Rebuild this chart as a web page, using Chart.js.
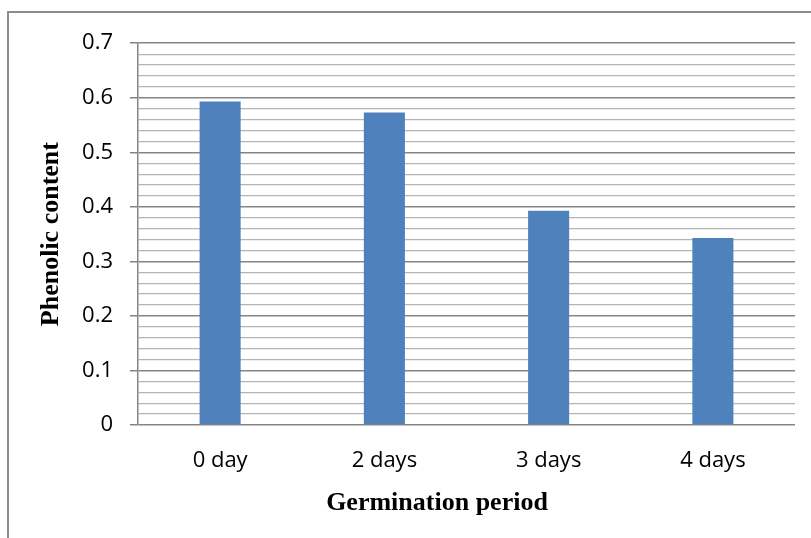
<!DOCTYPE html>
<html lang="en">
<head>
<meta charset="utf-8">
<title>Phenolic content</title>
<script src="https://cdn.jsdelivr.net/npm/chart.js@4.4.1/dist/chart.umd.min.js"></script>
<style>
    html, body { margin: 0; padding: 0; background: #fff; overflow: hidden; }
    /* marco exterior del gráfico (se sale por la derecha y por abajo) */
    #marco { position: absolute; left: 7px; top: 11px; width: 856px; height: 560px; border: 2px solid #8c8c8c; }
    #grafico { display: block; }
</style>
</head>
<body>
<div id="marco"><canvas id="grafico" width="856" height="525"></canvas></div>
<script>
// Datos
const categorias = ['0 day', '2 days', '3 days', '4 days'];
const valores = [0.593, 0.573, 0.393, 0.343];
const marcasMayores = [0, 0.1, 0.2, 0.3, 0.4, 0.5, 0.6, 0.7];
const pasoMenor = 0.02;

const COLORES = {
    BARRA: '#4f81bd',
    MAYOR: '#858585',
    MENOR: '#b4b4b4',
    TEXTO: '#000000'
};

const esMayor = v => marcasMayores.some(m => Math.abs(m - v) < 1e-6);

// Título del eje X centrado bajo todo el marco (como en Excel)
const tituloEjeX = {
    id: 'tituloEjeX',
    afterDraw(chart) {
        const { ctx, chartArea } = chart;
        ctx.save();
        ctx.font = 'bold 26px "Liberation Serif"';
        ctx.fillStyle = COLORES.TEXTO;
        ctx.textAlign = 'center';
        ctx.textBaseline = 'middle';
        ctx.fillText('Germination period', chart.width / 2, chartArea.bottom + 78);
        ctx.restore();
    }
};

document.addEventListener('DOMContentLoaded', () => {
    const ctx = document.getElementById('grafico').getContext('2d');

    new Chart(ctx, {
        type: 'bar',
        data: {
            labels: categorias,
            datasets: [{
                label: 'Phenolic content',
                data: valores,
                backgroundColor: COLORES.BARRA,
                borderWidth: 0,
                barPercentage: 0.25,
                categoryPercentage: 1
            }]
        },
        options: {
            responsive: false,
            animation: false,
            layout: { padding: { left: 0, right: 70, top: 29, bottom: 0 } },
            plugins: {
                legend: { display: false },
                tooltip: { enabled: false }
            },
            scales: {
                x: {
                    grid: { display: false, drawTicks: false },
                    border: { display: false },
                    ticks: {
                        color: COLORES.TEXTO,
                        font: { family: '"Open Sans"', size: 22 },
                        padding: 23
                    },
                    afterFit: scale => { scale.height = 113; }
                },
                y: {
                    min: 0,
                    max: 0.7,
                    border: { color: COLORES.MAYOR, width: 1.5 },
                    grid: {
                        color: c => esMayor(c.tick.value) ? COLORES.MAYOR : COLORES.MENOR,
                        lineWidth: c => esMayor(c.tick.value) ? 1.5 : 1.2,
                        tickColor: c => esMayor(c.tick.value) ? COLORES.MAYOR : 'rgba(0,0,0,0)',
                        tickLength: 8
                    },
                    ticks: {
                        stepSize: pasoMenor,
                        autoSkip: false,
                        color: COLORES.TEXTO,
                        font: { family: '"Open Sans"', size: 22 },
                        padding: 17,
                        callback: v => esMayor(v) ? String(Math.round(v * 10) / 10) : ''
                    },
                    title: {
                        display: true,
                        text: 'Phenolic content',
                        color: COLORES.TEXTO,
                        font: { family: '"Liberation Serif"', size: 26, weight: 'bold' },
                        padding: { top: 27, bottom: 0 }
                    },
                    afterFit: scale => { scale.width = 129; }
                }
            }
        },
        plugins: [tituloEjeX]
    });
});
</script>
</body>
</html>
